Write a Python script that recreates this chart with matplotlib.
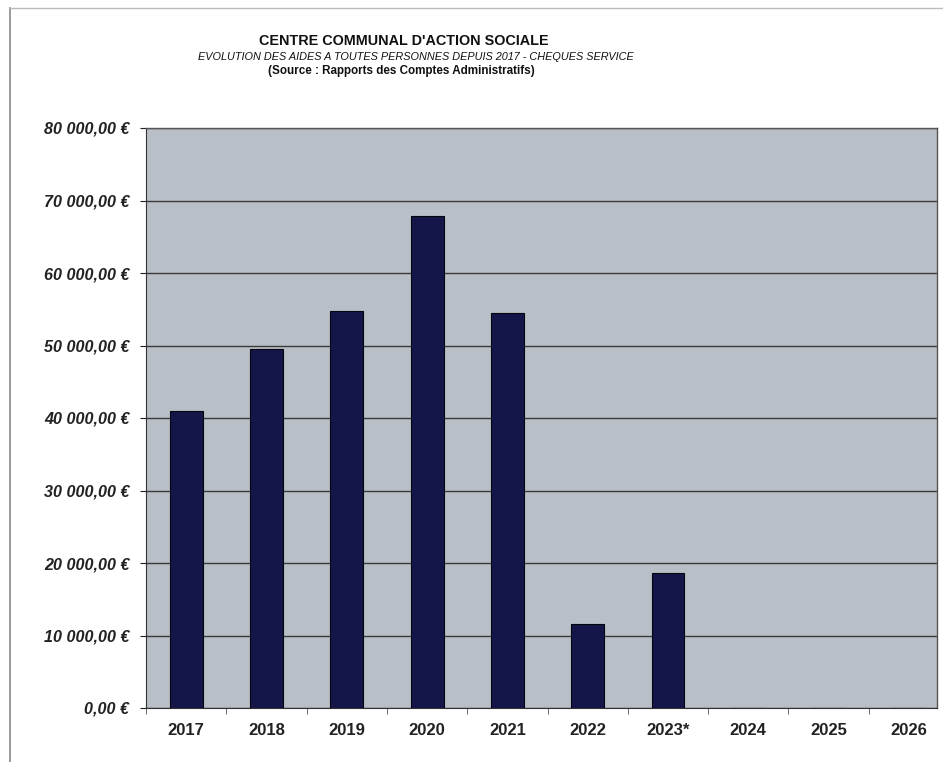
import matplotlib
matplotlib.use("Agg")
import matplotlib.pyplot as plt
from matplotlib.ticker import FuncFormatter, FixedLocator

categories = ["2017", "2018", "2019", "2020", "2021", "2022", "2023*", "2024", "2025", "2026"]
values = [40900, 49500, 54700, 67900, 54500, 11600, 18600, 0, 0, 0]
yticks = [0, 10000, 20000, 30000, 40000, 50000, 60000, 70000, 80000]

title = "CENTRE COMMUNAL D'ACTION SOCIALE"
subtitle = "EVOLUTION DES AIDES A TOUTES PERSONNES DEPUIS 2017 - CHEQUES SERVICE"
source = "(Source : Rapports des Comptes Administratifs)"

plt.rcParams['font.family'] = ['Liberation Sans', 'DejaVu Sans']

W, H = 943, 762
fig = plt.figure(figsize=(W / 100, H / 100), dpi=100)
fig.patch.set_facecolor('white')

ax = fig.add_axes([146 / W, 54 / H, 791 / W, 580 / H])
ax.set_facecolor('#b9bfc7')
x = list(range(len(categories)))
ax.bar(x, values, width=0.41, color='#14164a', edgecolor='#050510', linewidth=0.8, zorder=3)
ax.set_xlim(-0.5, 9.35)
ax.set_ylim(0, 80000)
ax.set_yticks(yticks)
ax.yaxis.set_major_formatter(FuncFormatter(lambda v, p: f"{int(v):,}".replace(",", " ") + ",00 €" if v else "0,00 €"))
for lab in ax.get_yticklabels():
    lab.set_fontweight('bold')
    lab.set_fontstyle('italic')
ax.tick_params(axis='y', labelsize=11.6, length=4, pad=8, colors='#222222')
ax.set_xticks(x)
ax.set_xticklabels(categories, fontweight='bold', fontsize=12)
ax.tick_params(axis='x', length=0, pad=11, colors='#222222')
ax.xaxis.set_minor_locator(FixedLocator([i + 0.5 for i in range(-1, 10)]))
ax.tick_params(axis='x', which='minor', length=4, color='#555555')
ax.grid(axis='y', color='#3a3a3a', linewidth=1.0, zorder=1)
for s in ['top', 'right']:
    ax.spines[s].set_color('#555555')
    ax.spines[s].set_linewidth(1.0)
ax.spines['left'].set_color('#333333')
ax.spines['bottom'].set_color('#333333')

fig.text(404 / W, 1 - 41 / H, title, ha='center', va='center', fontsize=10.4, fontweight='bold', color='#111111')
fig.text(416 / W, 1 - 57 / H, subtitle, ha='center', va='center', fontsize=7.8, fontstyle='italic', color='#111111')
fig.text(401 / W, 1 - 71 / H, source, ha='center', va='center', fontsize=8.4, fontweight='bold', color='#111111')

# page frame lines
fig.add_artist(plt.Line2D([10 / W, 10 / W], [0, 1 - 8 / H], transform=fig.transFigure, color='#888888', linewidth=1.2))
fig.add_artist(plt.Line2D([10 / W, 1], [1 - 8 / H, 1 - 8 / H], transform=fig.transFigure, color='#bbbbbb', linewidth=1.0))

fig.savefig("out.png", dpi=100)
